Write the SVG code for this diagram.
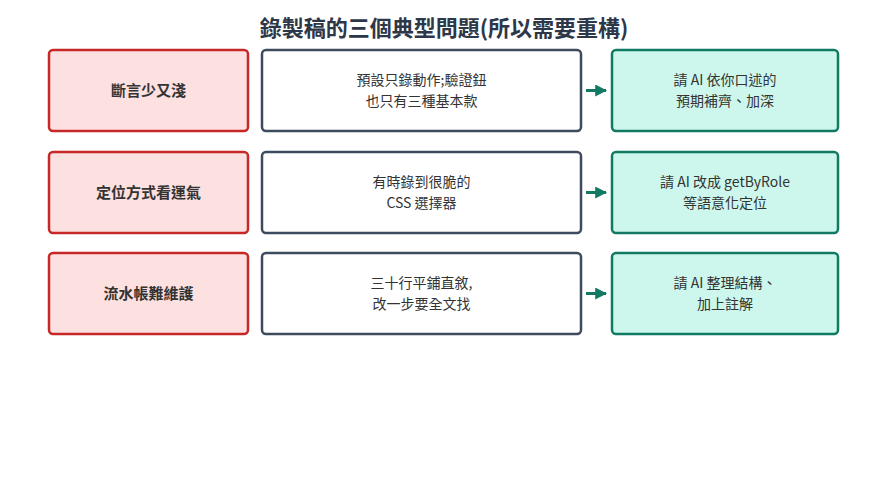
<svg xmlns="http://www.w3.org/2000/svg" width="889" height="477" viewBox="0 0 889 477">
<defs>
<style>
text{font-family:"Noto Sans CJK TC","Noto Sans",sans-serif;text-anchor:middle;fill:#333}
.t{font-size:22px;font-weight:bold;fill:#2d3748}
.p rect{fill:#fde0e0;stroke:#c62828;stroke-width:2.5}
.p text{font-size:15px;font-weight:bold}
.d rect{fill:#fff;stroke:#3d4b5f;stroke-width:2.5}
.d text,.s text{font-size:14px}
.s rect{fill:#cdf7ec;stroke:#127a63;stroke-width:2.5}
.c line{stroke:#127a63;stroke-width:3}
</style>
<marker id="a" viewBox="0 0 10 10" refX="9" refY="5" markerWidth="4" markerHeight="4" orient="auto"><path d="M0,0L10,5L0,10z" fill="#127a63"/></marker>
</defs>
<rect width="889" height="477" fill="#fff"/>
<text class="t" x="444" y="36">錄製稿的三個典型問題(所以需要重構)</text>
<g id="p1" class="p"><rect x="49" y="50" width="199" height="81" rx="4"/><text x="148.5" y="96">斷言少又淺</text></g>
<g id="d1" class="d"><rect x="262" y="50" width="319" height="81" rx="4"/><text x="421.5" y="85">預設只錄動作;驗證鈕</text><text x="421.5" y="106">也只有三種基本款</text></g>
<g id="s1" class="s"><rect x="612" y="50" width="226" height="81" rx="4"/><text x="725" y="85">請 AI 依你口述的</text><text x="725" y="106">預期補齊、加深</text></g>
<g id="p2" class="p"><rect x="49" y="152" width="199" height="81" rx="4"/><text x="148.5" y="198">定位方式看運氣</text></g>
<g id="d2" class="d"><rect x="262" y="152" width="319" height="81" rx="4"/><text x="421.5" y="187">有時錄到很脆的</text><text x="421.5" y="208">CSS 選擇器</text></g>
<g id="s2" class="s"><rect x="612" y="152" width="226" height="81" rx="4"/><text x="725" y="187">請 AI 改成 getByRole</text><text x="725" y="208">等語意化定位</text></g>
<g id="p3" class="p"><rect x="49" y="253" width="199" height="81" rx="4"/><text x="148.5" y="299">流水帳難維護</text></g>
<g id="d3" class="d"><rect x="262" y="253" width="319" height="81" rx="4"/><text x="421.5" y="288">三十行平鋪直敘,</text><text x="421.5" y="309">改一步要全文找</text></g>
<g id="s3" class="s"><rect x="612" y="253" width="226" height="81" rx="4"/><text x="725" y="288">請 AI 整理結構、</text><text x="725" y="309">加上註解</text></g>
<g id="connectors" class="c">
<line x1="586" y1="90.5" x2="606" y2="90.5" marker-end="url(#a)"/>
<line x1="586" y1="192.5" x2="606" y2="192.5" marker-end="url(#a)"/>
<line x1="586" y1="293.5" x2="606" y2="293.5" marker-end="url(#a)"/>
</g>
</svg>
